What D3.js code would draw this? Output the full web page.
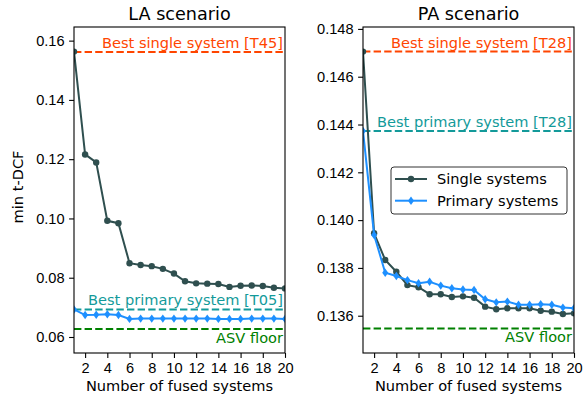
<!DOCTYPE html>
<html>
<head>
<meta charset="utf-8">
<script src="https://cdn.jsdelivr.net/npm/d3@7"></script>
<style>
    body { margin: 0; background: #fff; }
    svg { font-family: "DejaVu Sans", sans-serif; }
    .axis path, .axis line { stroke: #000; stroke-width: 1.1; }
    .axis text { font-size: 14.6px; fill: #000; }
</style>
</head>
<body>
<svg id="chart" width="584" height="402"></svg>
<script>

// number of fused systems
var fusedCount = [1, 2, 3, 4, 5, 6, 7, 8, 9, 10, 11, 12, 13, 14, 15, 16, 17, 18, 19, 20];
var xTicks = [2, 4, 6, 8, 10, 12, 14, 16, 18, 20];

// LA scenario
var laSingle = [0.1563, 0.1216, 0.1189, 0.0992, 0.0984, 0.0849, 0.0843, 0.0839, 0.0830, 0.0814,
                0.0788, 0.0781, 0.0780, 0.0779, 0.0769, 0.0773, 0.0774, 0.0772, 0.0766, 0.0764];
var laPrimary = [0.0693, 0.0674, 0.0675, 0.0677, 0.0674, 0.0661, 0.0662, 0.0662, 0.0662, 0.0662,
                 0.0662, 0.0662, 0.0662, 0.0661, 0.0661, 0.0661, 0.0662, 0.0662, 0.0662, 0.0661];
var laRefValues = [0.1562, 0.0693, 0.0627];
var laRefLabels = ["Best single system [T45]", "Best primary system [T05]", "ASV floor"];
var laYTicks = [0.06, 0.08, 0.10, 0.12, 0.14, 0.16];

// PA scenario
var paSingle = [0.14705, 0.13945, 0.13833, 0.13784, 0.13728, 0.13719, 0.13690, 0.13690, 0.13678, 0.13681,
                0.13675, 0.13638, 0.13627, 0.13631, 0.13631, 0.13631, 0.13621, 0.13617, 0.13607, 0.13610];
var paPrimary = [0.14373, 0.13938, 0.13780, 0.13766, 0.13749, 0.13736, 0.13742, 0.13726, 0.13715, 0.13710,
                 0.13708, 0.13669, 0.13656, 0.13659, 0.13646, 0.13646, 0.13648, 0.13646, 0.13634, 0.13631];
var paRefValues = [0.14705, 0.14373, 0.13547];
var paRefLabels = ["Best single system [T28]", "Best primary system [T28]", "ASV floor"];
var paYTicks = [0.136, 0.138, 0.140, 0.142, 0.144, 0.146, 0.148];

var seriesNames = ["Single systems", "Primary systems"];

var singleColour = "#2f4f4f",
    primaryColour = "#1e90ff",
    refColours = ["#ff4500", "#139a9a", "#008000"];

var svg = d3.select("#chart");
var top0 = 27, bottom0 = 353;
var textSize = "14.6px";

function drawPanel(id, left, right, yDomain, yTicks, yFormat, single, primary, refValues, refLabels, title) {

    var x = d3.scaleLinear().domain([1, 20]).range([0, right - left]);
    var y = d3.scaleLinear().domain(yDomain).range([bottom0 - top0, 0]);
    var h = bottom0 - top0, w = right - left;

    var g = svg.append("g").attr("transform", "translate(" + left + "," + top0 + ")");

    g.append("clipPath").attr("id", "clip-" + id)
        .append("rect").attr("width", w).attr("height", h);

    var plot = g.append("g").attr("clip-path", "url(#clip-" + id + ")");

    // reference lines
    refValues.forEach(function(v, i) {
        plot.append("line")
            .attr("x1", 0).attr("x2", w)
            .attr("y1", y(v)).attr("y2", y(v))
            .style("stroke", refColours[i])
            .style("stroke-width", 2)
            .style("stroke-dasharray", "7.4,3.2");
    });

    var line = d3.line()
        .x(function(d, i) { return x(fusedCount[i]); })
        .y(function(d) { return y(d); });

    // single systems
    plot.append("path").datum(single)
        .attr("d", line)
        .style("fill", "none").style("stroke", singleColour).style("stroke-width", 2);
    plot.selectAll(".dot")
        .data(single)
        .enter().append("circle")
        .attr("class", "dot")
        .attr("r", 3.2)
        .attr("cx", function(d, i) { return x(fusedCount[i]); })
        .attr("cy", y)
        .style("fill", singleColour);

    // primary systems
    plot.append("path").datum(primary)
        .attr("d", line)
        .style("fill", "none").style("stroke", primaryColour).style("stroke-width", 2);
    plot.selectAll(".diamond")
        .data(primary)
        .enter().append("path")
        .attr("class", "diamond")
        .attr("d", "M0,-4.2L3,0L0,4.2L-3,0Z")
        .attr("transform", function(d, i) { return "translate(" + x(fusedCount[i]) + "," + y(d) + ")"; })
        .style("fill", primaryColour);

    // reference labels
    refValues.forEach(function(v, i) {
        var last = i === refValues.length - 1;
        g.append("text")
            .attr("x", w - 2)
            .attr("y", last ? y(v) + 14 : y(v) - 4)
            .style("text-anchor", "end")
            .style("font-size", textSize)
            .style("fill", refColours[i])
            .text(refLabels[i]);
    });

    // axes
    g.append("g")
        .attr("class", "x axis")
        .attr("transform", "translate(0," + h + ")")
        .call(d3.axisBottom(x).tickValues(xTicks).tickSize(4.9).tickPadding(4.5).tickSizeOuter(0));

    g.append("g")
        .attr("class", "y axis")
        .call(d3.axisLeft(y).tickValues(yTicks).tickFormat(d3.format(yFormat)).tickSize(4.9).tickPadding(4.5).tickSizeOuter(0));

    g.selectAll(".axis .domain").remove();

    g.append("rect")
        .attr("width", w).attr("height", h)
        .style("fill", "none").style("stroke", "#000").style("stroke-width", 1.1);

    g.append("text")
        .attr("x", w / 2).attr("y", -7.5)
        .style("text-anchor", "middle")
        .style("font-size", "17.6px")
        .text(title);

    g.append("text")
        .attr("x", w / 2).attr("y", h + 38)
        .style("text-anchor", "middle")
        .style("font-size", textSize)
        .text("Number of fused systems");

    return g;
}

drawPanel("la", 74, 285, [0.0546, 0.1646], laYTicks, ".2f", laSingle, laPrimary, laRefValues, laRefLabels, "LA scenario");
var pa = drawPanel("pa", 363, 574, [0.13444, 0.14808], paYTicks, ".3f", paSingle, paPrimary, paRefValues, paRefLabels, "PA scenario");

// y axis label
svg.append("text")
    .attr("transform", "translate(22.5,187) rotate(-90)")
    .style("text-anchor", "middle")
    .style("font-size", textSize)
    .text("min t-DCF");

// legend
var legend = pa.append("g").attr("transform", "translate(28,140)");
legend.append("rect")
    .attr("width", 176).attr("height", 47).attr("rx", 3)
    .style("fill", "#fff").style("fill-opacity", 0.8)
    .style("stroke", "#333").style("stroke-width", 1);

seriesNames.forEach(function(name, i) {
    var yy = 12 + i * 21.7;
    var c = i === 0 ? singleColour : primaryColour;
    legend.append("line")
        .attr("x1", 4).attr("x2", 36).attr("y1", yy).attr("y2", yy)
        .style("stroke", c).style("stroke-width", 2);
    if (i === 0) {
        legend.append("circle").attr("cx", 20).attr("cy", yy).attr("r", 3.2).style("fill", c);
    } else {
        legend.append("path").attr("d", "M0,-4.2L3,0L0,4.2L-3,0Z")
            .attr("transform", "translate(20," + yy + ")").style("fill", c);
    }
    legend.append("text")
        .attr("x", 46).attr("y", yy + 5)
        .style("font-size", textSize)
        .text(name);
});
</script>
</body>
</html>
